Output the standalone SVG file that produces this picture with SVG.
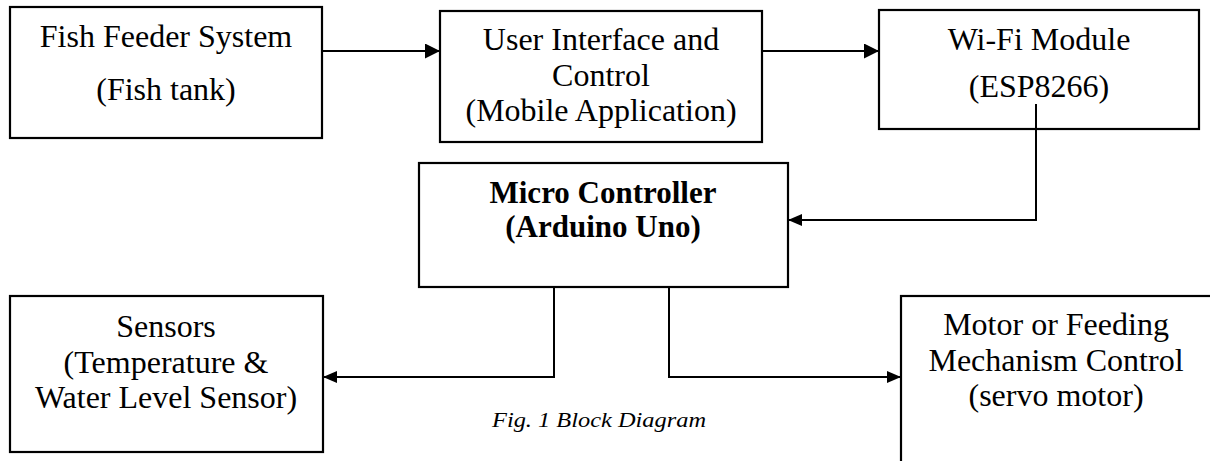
<svg xmlns="http://www.w3.org/2000/svg" width="1210" height="461" viewBox="0 0 1210 461">
<style>
.box{fill:#fff;stroke:#000;stroke-width:2.2}
.t{font-family:"Liberation Serif","Times New Roman",serif;font-size:32px;fill:#000;text-anchor:middle}
.b{font-weight:bold;font-size:31px}
.conn{fill:none;stroke:#000;stroke-width:2}
.cap{font-family:"Liberation Serif","Times New Roman",serif;font-style:italic;font-size:21px;fill:#000}
</style>
<defs>
<marker id="ah" viewBox="0 0 14 12" refX="14" refY="6" markerWidth="14" markerHeight="12" markerUnits="userSpaceOnUse" orient="auto">
<path d="M0,0 L14,6 L0,12 Z" fill="#000"/>
</marker>
<marker id="ahl" viewBox="0 0 15 15" refX="15" refY="7.5" markerWidth="15" markerHeight="15" markerUnits="userSpaceOnUse" orient="auto">
<path d="M0,0 L15,7.5 L0,15 Z" fill="#000"/>
</marker>
</defs>
<rect width="1210" height="461" fill="#fff"/>
<g id="fish-feeder">
<rect class="box" x="10" y="7" width="312" height="131"/>
<text class="t" x="166" y="47">Fish Feeder System</text>
<text class="t" x="166" y="100">(Fish tank)</text>
</g>
<g id="user-interface">
<rect class="box" x="440" y="11" width="322" height="131"/>
<text class="t" x="601" y="50">User Interface and</text>
<text class="t" x="601" y="86">Control</text>
<text class="t" x="601" y="121">(Mobile Application)</text>
</g>
<g id="wifi">
<rect class="box" x="879" y="10" width="320" height="119"/>
<text class="t" x="1039" y="50">Wi-Fi Module</text>
<text class="t" x="1039" y="97">(ESP8266)</text>
</g>
<g id="micro">
<rect class="box" x="419" y="163" width="369" height="124"/>
<text class="t b" x="603" y="203">Micro Controller</text>
<text class="t b" x="603" y="237">(Arduino Uno)</text>
</g>
<g id="sensors">
<rect class="box" x="10" y="296" width="313" height="156"/>
<text class="t" x="166" y="337">Sensors</text>
<text class="t" x="166" y="373">(Temperature &amp;</text>
<text class="t" x="166" y="408">Water Level Sensor)</text>
</g>
<g id="motor">
<rect class="box" x="901" y="296" width="315" height="180"/>
<text class="t" x="1056" y="335">Motor or Feeding</text>
<text class="t" x="1056" y="371">Mechanism Control</text>
<text class="t" x="1056" y="406">(servo motor)</text>
</g>
<g id="connectors">
<path class="conn" d="M322,51 H440" marker-end="url(#ahl)"/>
<path class="conn" d="M762,51 H879" marker-end="url(#ahl)"/>
<path class="conn" d="M1036,104 V220 H788" marker-end="url(#ah)"/>
<path class="conn" d="M554,287 V377 H323" marker-end="url(#ah)"/>
<path class="conn" d="M669,287 V377 H901" marker-end="url(#ah)"/>
</g>
<text class="cap" x="492" y="427" textLength="214" lengthAdjust="spacingAndGlyphs">Fig. 1 Block Diagram</text>
</svg>
